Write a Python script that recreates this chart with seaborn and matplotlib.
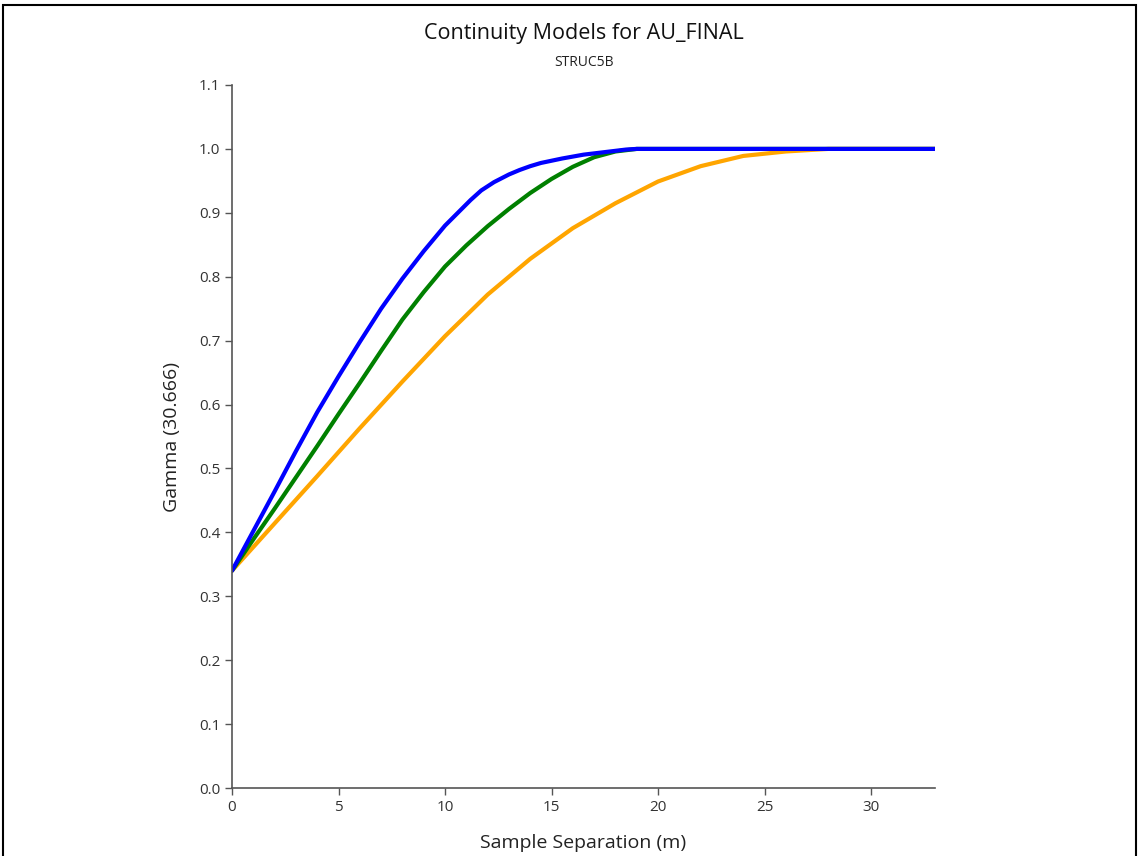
import matplotlib
matplotlib.use("Agg")
import matplotlib.pyplot as plt
import seaborn as sns
import pandas as pd
from matplotlib.patches import Rectangle

# Data
blue_x = [0, 1, 2, 3, 4, 5, 6, 7, 8, 9, 10, 10.6, 11.2, 11.7, 12.3, 13.0, 13.5, 14.0, 14.5,
          15.5, 16.5, 17.5, 18.5, 19.0, 33]
blue_y = [0.34, 0.402, 0.464, 0.527, 0.588, 0.644, 0.698, 0.750, 0.797, 0.840, 0.880, 0.900,
          0.920, 0.935, 0.948, 0.960, 0.967, 0.973, 0.978, 0.985, 0.991, 0.995, 0.999, 1.0, 1.0]

green_x = [0, 1, 2, 3, 4, 5, 6, 7, 8, 9, 10, 11, 12, 13, 14, 15, 16, 17, 18, 19, 33]
green_y = [0.34, 0.389, 0.437, 0.486, 0.535, 0.585, 0.634, 0.684, 0.733, 0.776, 0.816,
           0.849, 0.879, 0.906, 0.931, 0.953, 0.972, 0.987, 0.996, 1.0, 1.0]

orange_x = [0, 2, 4, 6, 8, 10, 12, 14, 16, 18, 20, 22, 24, 26, 28, 33]
orange_y = [0.34, 0.414, 0.488, 0.563, 0.636, 0.707, 0.772, 0.828, 0.876, 0.915, 0.949,
            0.973, 0.989, 0.996, 1.0, 1.0]

x_ticks = [0, 5, 10, 15, 20, 25, 30]
y_ticks = [0.0, 0.1, 0.2, 0.3, 0.4, 0.5, 0.6, 0.7, 0.8, 0.9, 1.0, 1.1]

title = "Continuity Models for AU_FINAL"
subtitle = "STRUC5B"
x_label = "Sample Separation (m)"
y_label = "Gamma (30.666)"

sns.set_style("ticks")
plt.rcParams['font.family'] = ['Open Sans', 'DejaVu Sans']

fig = plt.figure(figsize=(11.4, 8.56), dpi=100)
ax = fig.add_axes([232/1140, 1-788/856, (935-232)/1140, (788-85)/856])

series = [
    ("orange", orange_x, orange_y, "#FFA500"),
    ("green", green_x, green_y, "#008000"),
    ("blue", blue_x, blue_y, "#0000FF"),
]
for name, xs, ys, col in series:
    df = pd.DataFrame({"x": xs, "y": ys})
    sns.lineplot(data=df, x="x", y="y", ax=ax, color=col, linewidth=3.0,
                 estimator=None, sort=False)

ax.set_xlim(0, 33)
ax.set_ylim(0, 1.1)
ax.set_xticks(x_ticks)
ax.set_yticks(y_ticks)
ax.set_yticklabels([f"{v:.1f}" for v in y_ticks])
for s in ["top", "right"]:
    ax.spines[s].set_visible(False)
for s in ["left", "bottom"]:
    ax.spines[s].set_color("#555555")
    ax.spines[s].set_linewidth(1.2)
ax.tick_params(axis="both", colors="#555555", labelcolor="#333333", labelsize=11,
               length=5, width=1.0, direction="out")
ax.set_xlabel(x_label, fontsize=14, color="#222222", labelpad=14)
ax.set_ylabel(y_label, fontsize=14, color="#222222", labelpad=13)

fig.text(584/1140, 1-34/856, title, ha="center", va="center", fontsize=15.5, color="#111111")
fig.text(584/1140, 1-62/856, subtitle, ha="center", va="center", fontsize=10, color="#222222")

fig.patches.append(Rectangle((3/1140, -0.01), 1-7/1140, 1-5/856 + 0.01, transform=fig.transFigure,
                             fill=False, edgecolor="black", linewidth=1.5))

fig.savefig("out.png", dpi=100)
